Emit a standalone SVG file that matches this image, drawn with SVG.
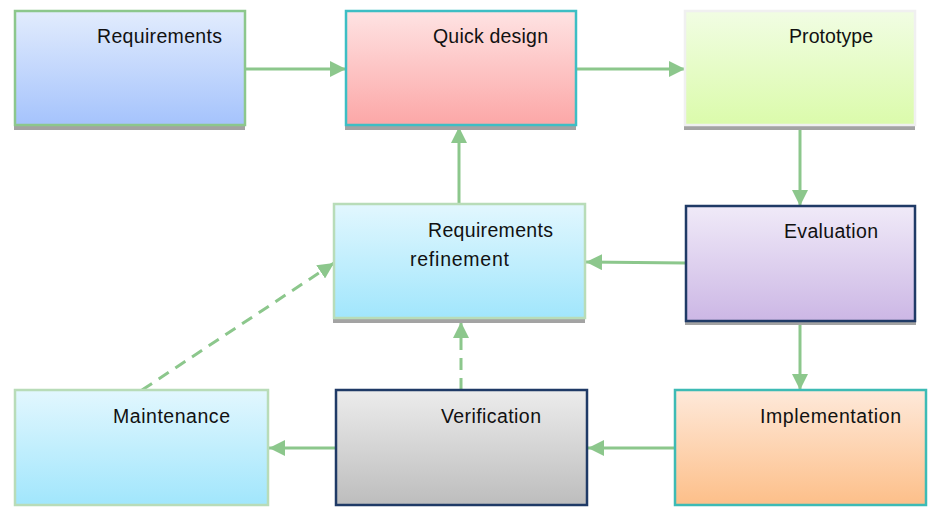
<svg xmlns="http://www.w3.org/2000/svg" width="930" height="507" viewBox="0 0 930 507">
  <style>
    .shadow { fill: #a3a3a3; }
    .box { stroke-width: 2.5; }
    .label { font-family: "Liberation Sans", Arial, sans-serif; font-size: 19.5px; fill: #111; }
    .edge { fill: none; stroke: #8cc78c; stroke-width: 3; }
    .dash { stroke-dasharray: 12 8; }
  </style>
  <defs>
    <linearGradient id="gBlue" x1="0" y1="0" x2="0" y2="1">
      <stop offset="0" stop-color="#e2ecfd"/>
      <stop offset="1" stop-color="#a5c3fc"/>
    </linearGradient>
    <linearGradient id="gRed" x1="0" y1="0" x2="0" y2="1">
      <stop offset="0" stop-color="#fee3e3"/>
      <stop offset="1" stop-color="#fca7a7"/>
    </linearGradient>
    <linearGradient id="gGreen" x1="0" y1="0" x2="0" y2="1">
      <stop offset="0" stop-color="#f1fde3"/>
      <stop offset="1" stop-color="#dbfbab"/>
    </linearGradient>
    <linearGradient id="gPurple" x1="0" y1="0" x2="0" y2="1">
      <stop offset="0" stop-color="#f0eaf8"/>
      <stop offset="1" stop-color="#ccb7e5"/>
    </linearGradient>
    <linearGradient id="gCyan" x1="0" y1="0" x2="0" y2="1">
      <stop offset="0" stop-color="#e2f7fe"/>
      <stop offset="1" stop-color="#a1e6fc"/>
    </linearGradient>
    <linearGradient id="gOrange" x1="0" y1="0" x2="0" y2="1">
      <stop offset="0" stop-color="#fee9da"/>
      <stop offset="1" stop-color="#fdbf89"/>
    </linearGradient>
    <linearGradient id="gGray" x1="0" y1="0" x2="0" y2="1">
      <stop offset="0" stop-color="#ececec"/>
      <stop offset="1" stop-color="#bdbdbd"/>
    </linearGradient>
    <marker id="arrow" viewBox="0 0 10 10" refX="10" refY="5" markerUnits="userSpaceOnUse" markerWidth="16" markerHeight="16" orient="auto">
      <path d="M0,0 L10,5 L0,10 Z" fill="#8cc78c"/>
    </marker>
  </defs>

  <!-- connectors -->
  <g id="connectors">
    <line class="edge" x1="245" y1="69" x2="346" y2="69" marker-end="url(#arrow)"/>
    <line class="edge" x1="576" y1="69" x2="685" y2="69" marker-end="url(#arrow)"/>
    <line class="edge" x1="800" y1="128" x2="800" y2="206" marker-end="url(#arrow)"/>
    <line class="edge" x1="686" y1="263" x2="586" y2="262" marker-end="url(#arrow)"/>
    <line class="edge" x1="459" y1="204" x2="459" y2="127" marker-end="url(#arrow)"/>
    <line class="edge" x1="800" y1="321" x2="800" y2="390" marker-end="url(#arrow)"/>
    <line class="edge" x1="675" y1="448" x2="588" y2="448" marker-end="url(#arrow)"/>
    <line class="edge" x1="336" y1="448" x2="269" y2="448" marker-end="url(#arrow)"/>
    <line class="edge dash" x1="461" y1="390" x2="461" y2="322" marker-end="url(#arrow)"/>
    <line class="edge dash" x1="142" y1="390" x2="334" y2="263" marker-end="url(#arrow)"/>
  </g>

  <g id="requirements">
    <rect class="shadow" x="14" y="16" width="231" height="114"/>
    <rect class="box" x="15" y="11" width="230" height="114" fill="url(#gBlue)" stroke="#8cc78c"/>
    <text class="label" x="97" y="43" textLength="125" lengthAdjust="spacing">Requirements</text>
  </g>

  <g id="quick-design">
    <rect class="shadow" x="345" y="16" width="231" height="114"/>
    <rect class="box" x="346" y="11" width="230" height="114" fill="url(#gRed)" stroke="#3dbec4"/>
    <text class="label" x="433" y="43" textLength="115" lengthAdjust="spacing">Quick design</text>
  </g>

  <g id="prototype">
    <rect class="shadow" x="684" y="16" width="231" height="114"/>
    <rect class="box" x="685" y="11" width="230" height="114" fill="url(#gGreen)" stroke="#f0f0f0"/>
    <text class="label" x="789" y="43" textLength="84" lengthAdjust="spacing">Prototype</text>
  </g>

  <g id="evaluation">
    <rect class="shadow" x="685" y="211" width="231" height="114"/>
    <rect class="box" x="686" y="206" width="229" height="115" fill="url(#gPurple)" stroke="#1f3a66"/>
    <text class="label" x="784" y="238" textLength="94" lengthAdjust="spacing">Evaluation</text>
  </g>

  <g id="requirements-refinement">
    <rect class="shadow" x="333" y="209" width="252" height="114"/>
    <rect class="box" x="334" y="204" width="251" height="114" fill="url(#gCyan)" stroke="#b8dcb8"/>
    <text class="label" x="428" y="237" textLength="125" lengthAdjust="spacing">Requirements</text>
    <text class="label" x="410" y="266" textLength="99" lengthAdjust="spacing">refinement</text>
  </g>

  <g id="implementation">
    <rect class="box" x="675" y="390" width="251" height="115" fill="url(#gOrange)" stroke="#3dbbb5"/>
    <text class="label" x="760" y="423" textLength="141" lengthAdjust="spacing">Implementation</text>
  </g>

  <g id="verification">
    <rect class="box" x="336" y="390" width="251" height="115" fill="url(#gGray)" stroke="#1f3a66"/>
    <text class="label" x="441" y="423" textLength="100" lengthAdjust="spacing">Verification</text>
  </g>

  <g id="maintenance">
    <rect class="box" x="15" y="390" width="253" height="115" fill="url(#gCyan)" stroke="#b8dcb8"/>
    <text class="label" x="113" y="423" textLength="117" lengthAdjust="spacing">Maintenance</text>
  </g>
</svg>
